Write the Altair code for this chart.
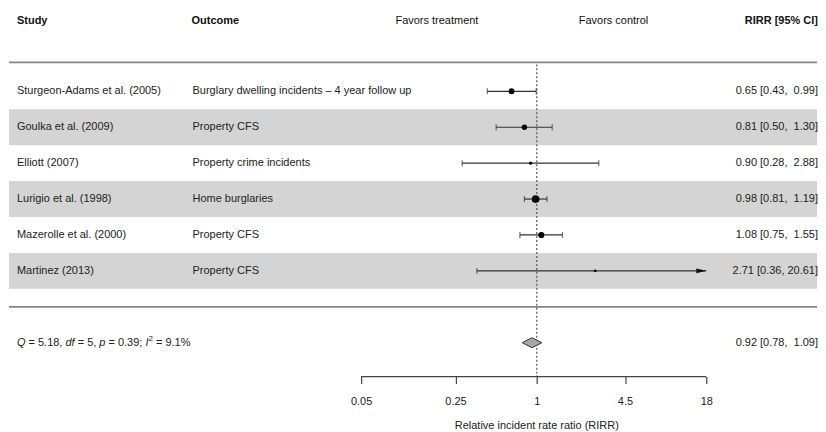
import math
import altair as alt
import pandas as pd

# ---------------- data ----------------
studies = ["Sturgeon-Adams et al. (2005)", "Goulka et al. (2009)", "Elliott (2007)",
           "Lurigio et al. (1998)", "Mazerolle et al. (2000)", "Martinez (2013)"]
outcomes = ["Burglary dwelling incidents \u2013 4 year follow up", "Property CFS",
            "Property crime incidents", "Home burglaries", "Property CFS", "Property CFS"]
rirr = [0.65, 0.81, 0.90, 0.98, 1.08, 2.71]
ci_lo = [0.43, 0.50, 0.28, 0.81, 0.75, 0.36]
ci_hi = [0.99, 1.30, 2.88, 1.19, 1.55, 20.61]
weights = [20, 16, 3, 37, 22, 2]          # estimated relative study weights (%)

summary_est, summary_lo, summary_hi = 0.92, 0.78, 1.09
het_segments = [("Q", "it"), (" = 5.18, ", "n"), ("df", "it"), (" = 5, ", "n"),
                ("p", "it"), (" = 0.39; ", "n"), ("I", "it"), ("2", "sup"), (" = 9.1%", "n")]

tick_values = [0.05, 0.25, 1, 4.5, 18]
tick_labels = ["0.05", "0.25", "1", "4.5", "18"]
axis_title = "Relative incident rate ratio (RIRR)"
headers = {"study": "Study", "outcome": "Outcome", "left": "Favors treatment",
           "right": "Favors control", "est": "RIRR [95% CI]"}

# ---------------- layout ----------------
FONT = "Liberation Sans"
W, H = 810, 369
X_LO_PX, X_HI_PX = 353, 699          # pixel positions of axis limits
AX_MIN, AX_MAX = tick_values[0], tick_values[-1]
k = (math.log(AX_MAX) - math.log(AX_MIN)) / (X_HI_PX - X_LO_PX)
dom_lo = math.exp(math.log(AX_MIN) - X_LO_PX * k)
dom_hi = math.exp(math.log(AX_MAX) + (W - X_HI_PX) * k)
ROW0, ROWH = 47, 36                   # plot y = ROW0 + ROWH * row
y_lo = -ROW0 / ROWH
y_hi = (H - ROW0) / ROWH

xscale = alt.Scale(type="log", domain=[dom_lo, dom_hi], nice=False, zero=False)
yscale = alt.Scale(domain=[y_lo, y_hi], reverse=True, nice=False, zero=False)

label_expr = " : ".join(f"datum.value == {v} ? '{l}'" for v, l in zip(tick_values, tick_labels)) + " : datum.label"
xaxis = alt.Axis(values=tick_values, labelExpr=label_expr, title=None, domain=False, grid=False,
                 tickSize=7, tickColor="#444", tickWidth=1.2, labelFont=FONT, labelFontSize=11,
                 labelColor="#222", labelPadding=12, labelFlush=False, labelOverlap=False)


def X(field):
    return alt.X(field, type="quantitative", scale=xscale, axis=xaxis)


def Y(field):
    return alt.Y(field, type="quantitative", scale=yscale, axis=None)


def fmt_ci(e, lo, hi):
    return f"{e:.2f} [{lo:.2f}, " + f"{hi:5.2f}".replace(" ", "\u00a0") + "]"


rows = list(range(1, len(studies) + 1))
df = pd.DataFrame({
    "row": rows, "study": studies, "outcome": outcomes, "est": rirr,
    "lo": ci_lo, "hi": ci_hi, "w": weights,
})
df["hi_clip"] = df["hi"].clip(upper=AX_MAX)
df["label"] = [fmt_ci(e, l, h) for e, l, h in zip(rirr, ci_lo, ci_hi)]
df["band_top"] = df["row"] - 0.5
df["band_bot"] = df["row"] + 0.5

SUM_ROW = len(studies) + 2
half_h = 5 / ROWH
diamond = pd.DataFrame({
    "x": [summary_lo, summary_est, summary_hi],
    "y1": [SUM_ROW, SUM_ROW - half_h, SUM_ROW],
    "y2": [SUM_ROW, SUM_ROW + half_h, SUM_ROW],
})
summ = pd.DataFrame({"row": [SUM_ROW], "label": [fmt_ci(summary_est, summary_lo, summary_hi)]})
ref = pd.DataFrame({"x": [1.0], "lo": [AX_MIN], "hi": [AX_MAX], "title": [axis_title]})

base = alt.Chart(df)

bands = base.transform_filter("datum.row % 2 == 0").mark_rect(color="#d4d4d4").encode(
    x=alt.value(0), x2=alt.value(W), y=Y("band_top"), y2="band_bot")

top_line = alt.Chart(ref).mark_rule(color="#858585", strokeWidth=1.8).encode(
    x=alt.value(0), x2=alt.value(W), y=alt.value(54))
sep_line = alt.Chart(ref).mark_rule(color="#858585", strokeWidth=1.8).encode(
    x=alt.value(0), x2=alt.value(W), y=alt.value(299))

ref_line = alt.Chart(ref).mark_rule(color="#555", strokeWidth=1.2, strokeDash=[2, 2]).encode(
    x=X("x"), y=alt.value(56), y2=alt.value(H))

ci_rules = base.mark_rule(color="#333", strokeWidth=1.2).encode(x=X("lo"), x2="hi_clip", y=Y("row"))
cap_lo = base.mark_tick(orient="vertical", size=6, thickness=1.2, color="#333").encode(x=X("lo"), y=Y("row"))
cap_hi = base.transform_filter(f"datum.hi <= {AX_MAX}").mark_tick(
    orient="vertical", size=6, thickness=1.2, color="#333").encode(x=X("hi"), y=Y("row"))
arrows = base.transform_filter(f"datum.hi > {AX_MAX}").mark_point(
    shape="M0,0L-1,-0.25L-1,0.25Z", size=400, filled=True, color="#111", opacity=1).encode(
    x=X("hi_clip"), y=Y("row"))
points = base.mark_circle(color="#000", opacity=1).encode(
    x=X("est"), y=Y("row"),
    size=alt.Size("w", type="quantitative", scale=alt.Scale(domain=[0, 40], range=[6, 64]), legend=None))

diam = alt.Chart(diamond).mark_area(color="#a8a8a8", stroke="#333", strokeWidth=1, opacity=1,
                                    orient="vertical").encode(x=X("x"), y=Y("y1"), y2="y2")

txt = dict(font=FONT, fontSize=11, color="#222", baseline="middle")
study_txt = base.mark_text(align="left", **txt).encode(x=alt.value(8), y=Y("row"), text="study")
outcome_txt = base.mark_text(align="left", **txt).encode(x=alt.value(184), y=Y("row"), text="outcome")
est_txt = base.mark_text(align="right", **txt).encode(x=alt.value(W + 1), y=Y("row"), text="label")
sum_txt = alt.Chart(summ).mark_text(align="right", **txt).encode(x=alt.value(W + 1), y=Y("row"), text="label")

title_txt = alt.Chart(ref).mark_text(align="center", **txt).encode(
    x=X("x"), y=alt.value(H + 50), text="title")

hdr_y = 13
hb = dict(font=FONT, fontSize=11, color="#111", baseline="middle")
hdr = [
    alt.Chart(ref).mark_text(align="left", fontWeight="bold", **hb).encode(
        x=alt.value(8), y=alt.value(hdr_y), text=alt.value(headers["study"])),
    alt.Chart(ref).mark_text(align="left", fontWeight="bold", **hb).encode(
        x=alt.value(183), y=alt.value(hdr_y), text=alt.value(headers["outcome"])),
    alt.Chart(ref).mark_text(align="center", **hb).encode(
        x=alt.value(429), y=alt.value(hdr_y), text=alt.value(headers["left"])),
    alt.Chart(ref).mark_text(align="center", **hb).encode(
        x=alt.value(606), y=alt.value(hdr_y), text=alt.value(headers["right"])),
    alt.Chart(ref).mark_text(align="right", fontWeight="bold", **hb).encode(
        x=alt.value(W + 1), y=alt.value(hdr_y), text=alt.value(headers["est"])),
]

# heterogeneity line built from styled segments (Arial / Liberation Sans advance widths)
adv = {" ": 278, "=": 584, ".": 278, ",": 278, ";": 278, "%": 889, "Q": 778, "d": 556,
       "f": 278, "p": 556, "I": 278}
for ch in "0123456789":
    adv[ch] = 556


def seg_width(s, fs):
    return sum(adv.get(c, 556) for c in s) * fs / 1000.0


het_layers = []
xpos = 8.0
for seg, style in het_segments:
    fs = 8 if style == "sup" else 11
    mk = dict(font=FONT, fontSize=fs, color="#222", baseline="middle", align="left")
    if style == "it":
        mk["fontStyle"] = "italic"
    if style == "sup":
        mk["dy"] = -4
    lead = len(seg) - len(seg.lstrip(" "))
    shown = seg.strip(" ")
    het_layers.append(alt.Chart(summ).mark_text(**mk).encode(
        x=alt.value(round(xpos + seg_width(" " * lead, fs), 2)), y=Y("row"), text=alt.value(shown)))
    xpos += seg_width(seg, fs)

axis_line = alt.Chart(ref).mark_rule(color="#444", strokeWidth=1.4).encode(
    x=X("lo"), x2="hi", y=alt.value(H))

chart = alt.layer(
    bands, top_line, sep_line, ref_line, ci_rules, cap_lo, cap_hi, arrows, points, diam,
    study_txt, outcome_txt, est_txt, sum_txt, title_txt, *hdr, *het_layers, axis_line,
).properties(width=W, height=H, padding=0).configure_view(stroke=None)

chart.save("out.html", embed_options={"renderer": "svg", "actions": False})
